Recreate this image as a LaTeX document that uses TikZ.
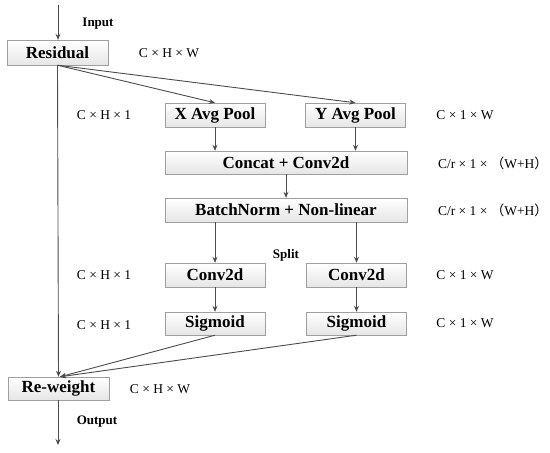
\documentclass[tikz,border=0pt]{standalone}
\usepackage{fontspec}
\setmainfont{Liberation Serif}
\newfontfamily\cjk{Noto Sans CJK SC}
\usetikzlibrary{positioning,arrows.meta,calc}

\begin{document}
\begin{tikzpicture}[x=1pt, y=-1pt,
        >={Stealth[length=6pt,width=5pt]},
        blk/.style={draw=gray!75, top color=white, bottom color=gray!20,
                    minimum height=24pt, inner sep=0pt,
                    font=\fontsize{17}{19}\selectfont\bfseries},
        small/.style={blk, minimum width=100pt},
        wide/.style={blk, minimum width=242pt},
        dim/.style={font=\fontsize{13.5}{15}\selectfont},
        tag/.style={font=\fontsize{13}{15}\selectfont\bfseries},
        flow/.style={->, draw=black!70, line width=0.9pt}]
    \useasboundingbox (0,0) rectangle (550,453);

    % blocks
    \node[blk, minimum width=101pt, minimum height=25pt] (res) at (57.5,52.5) {Residual};
    \node[small] (xpool) at (215,115) {X Avg Pool};
    \node[small] (ypool) at (355.5,115) {Y Avg Pool};
    \node[wide, minimum height=23pt] (cat) at (286,162.5) {Concat + Conv2d};
    \node[wide] (bn) at (286,210) {BatchNorm + Non-linear};
    \node[small] (xconv) at (215,275) {Conv2d};
    \node[small] (yconv) at (356.5,275) {Conv2d};
    \node[small, minimum height=23pt] (xsig) at (215,323.5) {Sigmoid};
    \node[small, minimum height=23pt] (ysig) at (356.5,323.5) {Sigmoid};
    \node[blk, minimum width=101pt, minimum height=23pt] (rew) at (58.5,388.5) {Re-weight};

    \coordinate (in) at (58,5);
    \coordinate (out) at (58,445);

    % connectors
    \draw[flow] (in) -- (res.north -| in);
    \draw[flow] (res.south) -- (xpool.north);
    \draw[flow] (res.south) -- (ypool.north);
    \draw[flow] (res.south) -- (rew.north);
    \draw[flow] (xpool.south) -- (xpool.south |- cat.north);
    \draw[flow] (ypool.south) -- (ypool.south |- cat.north);
    \draw[flow] (cat.south) -- (bn.north);
    \draw[flow] (xconv.north |- bn.south) -- (xconv.north);
    \draw[flow] (yconv.north |- bn.south) -- (yconv.north);
    \draw[flow] (xconv.south) -- (xsig.north);
    \draw[flow] (yconv.south) -- (ysig.north);
    \draw[flow] (xsig.south) -- ($(rew.north)+(1.5,0)$);
    \draw[flow] (ysig.south) -- ($(rew.north)+(1.5,0)$);
    \draw[flow] (rew.south -| out) -- (out);

    % labels
    \node[tag] (lin) at (98,24) {Input};
    \node[tag] (lout) at (97,422) {Output};
    \node[tag] (lsplit) at (286,255) {Split};
    \node[dim] (d1) at (169,53) {C × H × W};
    \node[dim] (d2) at (104,115) {C × H × 1};
    \node[dim] (d3) at (465,115) {C × 1 × W};
    \node[dim] (d4) at (493,163) {C/r × 1 × {\cjk （}W+H{\cjk ）}};
    \node[dim] (d5) at (493,210) {C/r × 1 × {\cjk （}W+H{\cjk ）}};
    \node[dim] (d6) at (104,275) {C × H × 1};
    \node[dim] (d7) at (465,275) {C × 1 × W};
    \node[dim] (d8) at (104,325) {C × H × 1};
    \node[dim] (d9) at (465,323) {C × 1 × W};
    \node[dim] (d10) at (160,389) {C × H × W};
\end{tikzpicture}
\end{document}
